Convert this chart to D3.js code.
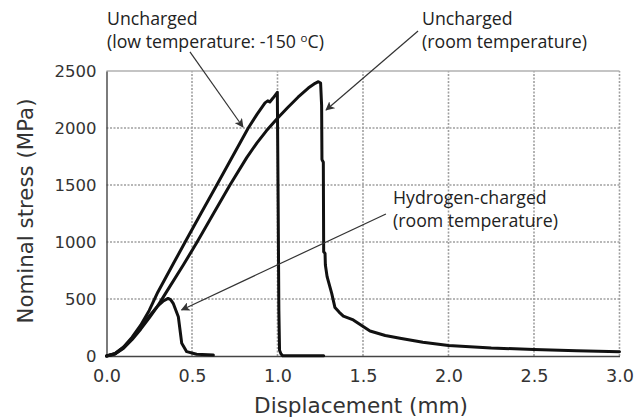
<!DOCTYPE html>
<html><head><meta charset="utf-8">
<script src="https://cdn.jsdelivr.net/npm/d3@7"></script>
<style>
html,body{margin:0;padding:0;background:#fff;}
svg{display:block;}
</style></head>
<body><svg id="c" width="638" height="419"></svg>
<script>
// ---- data ----
const xTicks = [0.0, 0.5, 1.0, 1.5, 2.0, 2.5, 3.0];
const yTicks = [0, 500, 1000, 1500, 2000, 2500];
const xLabel = "Displacement (mm)";
const yLabel = "Nominal stress (MPa)";

// Uncharged, low temperature (-150 oC)
const lowTempDisp   = [0, 0.05, 0.10, 0.15, 0.20, 0.25, 0.30, 0.40, 0.46, 0.552, 0.645, 0.737, 0.829, 0.88, 0.927, 0.943, 0.955, 0.975, 0.999, 1.003, 1.008, 1.012, 1.02, 1.03, 1.27];
const lowTempStress = [0, 22, 80, 165, 270, 400, 560, 835, 1000, 1250, 1500, 1750, 2000, 2120, 2220, 2238, 2228, 2265, 2313, 1500, 400, 50, 20, 3, 3];

// Uncharged, room temperature
const roomDisp   = [0, 0.05, 0.10, 0.15, 0.20, 0.25, 0.30, 0.35, 0.45, 0.53, 0.63, 0.722, 0.82, 0.88, 0.935, 1.0, 1.06, 1.12, 1.18, 1.22, 1.239, 1.252, 1.258, 1.260, 1.268, 1.270, 1.278, 1.28, 1.29, 1.317, 1.336, 1.36, 1.385, 1.443, 1.541, 1.63, 1.716, 1.85, 2.0, 2.25, 2.5, 2.75, 3.0];
const roomStress = [0, 18, 68, 145, 235, 335, 440, 560, 800, 1000, 1260, 1500, 1740, 1870, 1975, 2085, 2180, 2270, 2350, 2392, 2406, 2395, 2200, 1723, 1700, 915, 900, 798, 696, 550, 425, 385, 350, 316, 219, 180, 155, 120, 92, 70, 57, 46, 38];

// Hydrogen-charged, room temperature
const hydroDisp   = [0, 0.05, 0.10, 0.15, 0.20, 0.25, 0.30, 0.33, 0.36, 0.375, 0.39, 0.42, 0.43, 0.44, 0.469, 0.527, 0.625];
const hydroStress = [0, 20, 75, 155, 250, 350, 440, 480, 505, 495, 462, 345, 228, 111, 38, 15, 8];

const annotations = [
  {lines: ["Uncharged", "(low temperature: -150 \u00B0C)"], tail: [0.488, 2667], tip: [0.798, 2009]},
  {lines: ["Uncharged", "(room temperature)"], tail: [1.822, 2851], tip: [1.284, 2158]},
  {lines: ["Hydrogen-charged", "(room temperature)"], tail: [1.634, 1246], tip: [0.439, 404]}
];

// ---- drawing ----
const svg = d3.select("#c");
const x = d3.scaleLinear().domain([0, 3]).range([106.5, 619.5]);
const y = d3.scaleLinear().domain([0, 2500]).range([356, 71]);

const axisFont = "'DejaVu Sans', 'Noto Sans', sans-serif";
const annFont = "'Open Sans', sans-serif";

function fitSize(sel, refNode, target) {
  const fs = parseFloat(d3.select(refNode).attr("font-size"));
  const w = refNode.getComputedTextLength();
  const nfs = fs * target / w;
  sel.attr("font-size", nfs);
  return nfs;
}

// grid
const grid = svg.append("g").attr("class", "grid");
grid.selectAll("line.vg").data(xTicks.slice(1)).join("line").attr("class", "vg")
  .attr("x1", d => x(d)).attr("x2", d => x(d))
  .attr("y1", y(0)).attr("y2", y(2500))
  .style("stroke", "#a0a0a0").style("stroke-width", "1.6px").style("stroke-dasharray", "2,1.5");
grid.selectAll("line.hg").data(yTicks.slice(1, -1)).join("line").attr("class", "hg")
  .attr("x1", x(0)).attr("x2", x(3))
  .attr("y1", d => y(d)).attr("y2", d => y(d))
  .style("stroke", "#a0a0a0").style("stroke-width", "1.6px").style("stroke-dasharray", "2,1.5");
grid.append("line").attr("x1", x(0)).attr("x2", x(3)).attr("y1", y(2500)).attr("y2", y(2500))
  .style("stroke", "#b0b0b0").style("stroke-width", "1.6px");

// axes
const xAxis = svg.append("g").attr("transform", `translate(0,${y(0)})`)
  .call(d3.axisBottom(x).tickValues(xTicks).tickFormat(d3.format(".1f")).tickSize(0).tickPadding(14));
const yAxis = svg.append("g").attr("transform", `translate(${x(0)},0)`)
  .call(d3.axisLeft(y).tickValues(yTicks).tickFormat(d3.format("d")).tickSize(0).tickPadding(10));
[xAxis, yAxis].forEach(a => {
  a.attr("font-family", null).attr("font-size", null);
  a.select(".domain").attr("stroke", "#444").attr("stroke-width", 1.4);
  a.selectAll("text").attr("font-family", axisFont).attr("font-size", 16).attr("fill", "#333");
});
const yt = yAxis.selectAll(".tick text");
fitSize(yt, yt.filter(d => d === 2500).node(), 42);
const xt = xAxis.selectAll(".tick text");
fitSize(xt, xt.filter(d => d === 0).node(), 28);

const xl = svg.append("text").attr("x", 361).attr("y", 413).attr("text-anchor", "middle")
  .attr("font-family", axisFont).attr("font-size", 18).attr("fill", "#333").text(xLabel);
fitSize(xl, xl.node(), 214);
const yl = svg.append("text").attr("transform", "translate(33,211) rotate(-90)").attr("text-anchor", "middle")
  .attr("font-family", axisFont).attr("font-size", 18).attr("fill", "#333").text(yLabel);
fitSize(yl, yl.node(), 225);

// curves
const line = d3.line().x(d => x(d[0])).y(d => y(d[1]));
const series = [
  d3.zip(lowTempDisp, lowTempStress),
  d3.zip(roomDisp, roomStress),
  d3.zip(hydroDisp, hydroStress)
];
svg.append("g").selectAll("path").data(series).join("path")
  .attr("d", line).attr("fill", "none").attr("stroke", "#111")
  .attr("stroke-width", 3).attr("stroke-linejoin", "round").attr("stroke-linecap", "round");

// arrowheads
svg.append("defs").append("marker").attr("id", "ah")
  .attr("viewBox", "0 0 10 10").attr("refX", 9).attr("refY", 5)
  .attr("markerWidth", 9).attr("markerHeight", 9).attr("orient", "auto")
  .attr("markerUnits", "userSpaceOnUse")
  .append("path").attr("d", "M0,0 L10,5 L0,10 L2.5,5 z").attr("fill", "#333");

const ann = svg.append("g");
ann.selectAll("line").data(annotations).join("line")
  .attr("x1", d => x(d.tail[0])).attr("y1", d => y(d.tail[1]))
  .attr("x2", d => x(d.tip[0])).attr("y2", d => y(d.tip[1]))
  .attr("stroke", "#333").attr("stroke-width", 1.2).attr("marker-end", "url(#ah)");

const labelPos = [[107, 25], [422, 25], [393, 204]];
const annTexts = [];
let refTspan = null;
annotations.forEach((a, i) => {
  const t = ann.append("text").attr("font-family", annFont).attr("font-size", 16).attr("fill", "#222");
  annTexts.push(t);
  a.lines.forEach((l, j) => {
    const ts = t.append("tspan").attr("x", labelPos[i][0]).attr("y", labelPos[i][1] + j * 23);
    if (l.includes("\u00B0C")) {
      const parts = l.split("\u00B0");
      ts.text(parts[0]);
      t.append("tspan").attr("class", "sup").attr("dy", -6).text("o");
      t.append("tspan").attr("dy", 6).text(parts[1]);
    } else ts.text(l);
    if (i === 1 && j === 1) refTspan = ts.node();
  });
});
const afs = parseFloat(annTexts[0].attr("font-size")) * 165 / refTspan.getComputedTextLength();
annTexts.forEach(t => t.attr("font-size", afs));
ann.selectAll("tspan.sup").attr("font-size", afs * 0.65);
</script></body></html>
